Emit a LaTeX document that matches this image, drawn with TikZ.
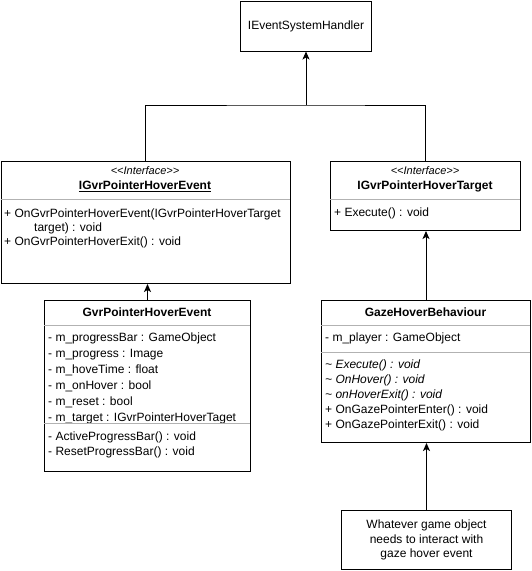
\documentclass[tikz,border=0pt]{standalone}
\usepackage{fontspec}
\setmainfont{Liberation Sans}
\usetikzlibrary{arrows.meta}

\begin{document}
\begin{tikzpicture}[x=1pt,y=-1pt,font=\fontsize{12}{16}\selectfont,
  classbox/.style={draw,line width=1pt,anchor=north west,inner sep=0pt},
  members/.style={anchor=north west,align=left,inner sep=0pt},
  ops/.style={members,font=\fontsize{12}{15}\selectfont},
  stereo/.style={font=\itshape\fontsize{11}{13}\selectfont},
  title/.style={font=\bfseries\fontsize{12}{14}\selectfont},
  sepline/.style={gray!60,line width=0.8pt},
  inherit/.style={-{Stealth[length=8pt,width=7pt,inset=2pt]},line width=1pt}]
\useasboundingbox (0,0) rectangle (531,571);
% top handler:
\node[classbox,minimum width=131pt,minimum height=50pt] (handler) at (240,0.5) {IEventSystemHandler};
% interfaces:
\node[classbox,minimum width=289.5pt,minimum height=122pt] (iEvent) at (0.5,161) {};
\node[stereo] (iEventStereo) at (145,171) {<\kern0pt<Interface>\kern0pt>};
\node[title] (iEventName) at (145,186) {\underline{IGvrPointerHoverEvent}};
\draw[sepline] (0.5,199) -- (290,199);
\node[ops,font=\fontsize{12}{14.2}\selectfont] (iEventOps) at (4,208.5) {+ OnGvrPointerHoverEvent(IGvrPointerHoverTarget\\
  \hspace*{30pt}target) : void\\
  + OnGvrPointerHoverExit() : void};
\node[classbox,minimum width=190pt,minimum height=69pt] (iTarget) at (330,161) {};
\node[stereo] (iTargetStereo) at (425,171) {<\kern0pt<Interface>\kern0pt>};
\node[title] (iTargetName) at (425,186) {IGvrPointerHoverTarget};
\draw[sepline] (330,199) -- (520,199);
\node[ops] (iTargetOps) at (334,208) {+ Execute() : void};
% classes:
\node[classbox,minimum width=206pt,minimum height=171pt] (gvrEvent) at (44,300) {};
\node[title] (gvrEventName) at (147,312) {GvrPointerHoverEvent};
\draw[sepline] (44,325) -- (250,325);
\node[members] (gvrEventAttr) at (48,332.5) {- m\_progressBar : GameObject\\
  - m\_progress : Image\\
  - m\_hoveTime : float\\
  - m\_onHover : bool\\
  - m\_reset : bool\\
  - m\_target : IGvrPointerHoverTaget};
\draw[sepline] (44,423) -- (250,423);
\node[ops] (gvrEventOps) at (48,431.5) {- ActiveProgressBar() : void\\
  - ResetProgressBar() : void};
\node[classbox,minimum width=209pt,minimum height=142pt] (gaze) at (321,300) {};
\node[title] (gazeName) at (425.5,312) {GazeHoverBehaviour};
\draw[sepline] (321,325) -- (530,325);
\node[members] (gazeAttr) at (325,332.5) {- m\_player : GameObject};
\draw[sepline] (321,352) -- (530,352);
\node[ops] (gazeOps) at (325,359.5) {\itshape\textasciitilde{} Execute() : void\\
  \itshape\textasciitilde{} OnHover() : void\\
  \itshape\textasciitilde{} onHoverExit() : void\\
  + OnGazePointerEnter() : void\\
  + OnGazePointerExit() : void};
% user:
\node[classbox,minimum width=170pt,minimum height=59pt,align=center,
  font=\fontsize{12}{14.5}\selectfont] (user) at (341,510) {Whatever game object\\
  needs to interact with\\
  gaze hover event};
% arrows:
\coordinate (join) at (handler.south |- 0,105);
\draw[line width=1pt] (iEvent.north) |- (join) -| (iTarget.north);
\draw[inherit] (join) -- (handler.south);
\draw[inherit] (gvrEvent.north) -- (gvrEvent.north |- iEvent.south);
\draw[inherit] (gaze.north) -- (gaze.north |- iTarget.south);
\draw[inherit] (user.north) -- (user.north |- gaze.south);
\end{tikzpicture}
\end{document}
